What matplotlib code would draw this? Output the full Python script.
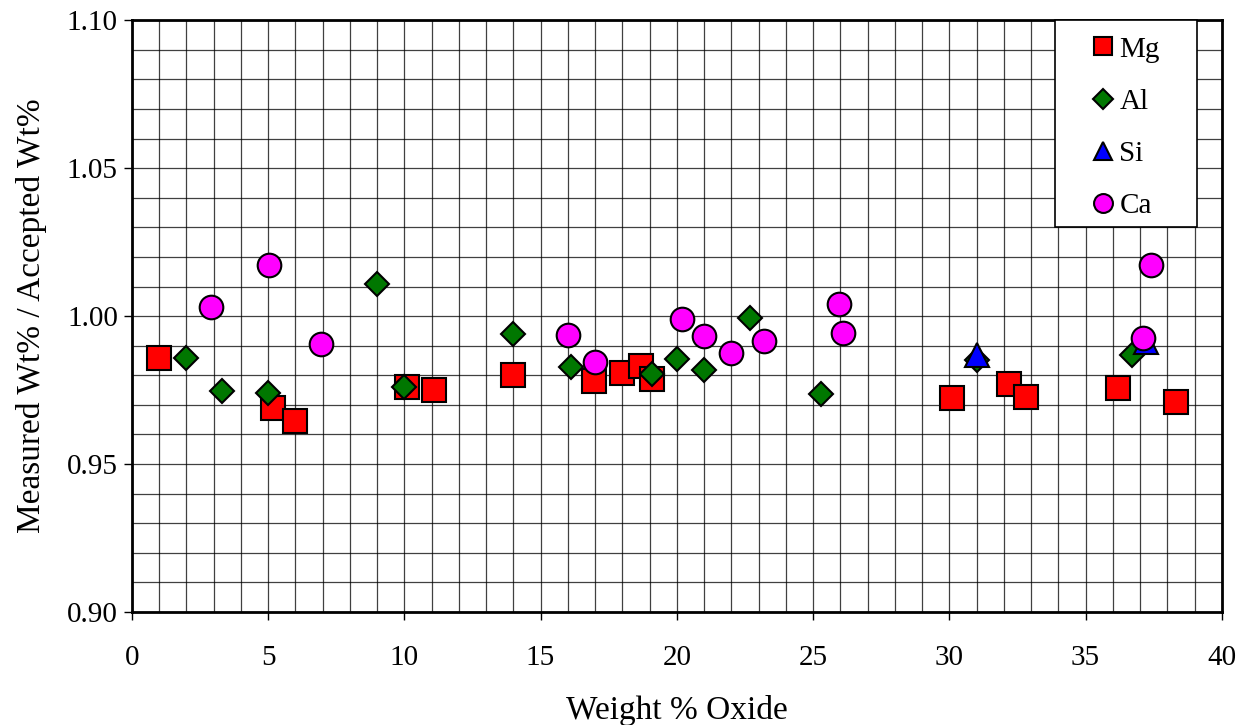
import matplotlib
matplotlib.use("Agg")
import matplotlib.pyplot as plt
from matplotlib.ticker import MultipleLocator, FormatStrFormatter
from matplotlib.patches import Rectangle

# data
mg_x = [1.0, 5.2, 6.0, 10.1, 11.1, 14.0, 16.95, 18.0, 18.7, 19.1, 30.1, 32.2, 32.8, 36.2, 38.3]
mg_y = [0.986, 0.969, 0.9645, 0.976, 0.975, 0.980, 0.978, 0.9807, 0.983, 0.9787, 0.9723, 0.977, 0.9726, 0.9757, 0.971]

al_x = [2.0, 3.3, 5.0, 9.0, 10.0, 14.0, 16.1, 19.1, 20.0, 21.0, 22.7, 25.3, 31.0, 36.7]
al_y = [0.9858, 0.9747, 0.974, 1.0108, 0.976, 0.9939, 0.9827, 0.9804, 0.9855, 0.9817, 0.9993, 0.9736, 0.985, 0.987]

si_x = [31.0, 37.2]
si_y = [0.9868, 0.9912]

ca_x = [2.9, 5.03, 6.95, 16.0, 17.0, 20.2, 21.0, 22.0, 23.2, 25.95, 26.1, 37.4, 37.1]
ca_y = [1.003, 1.0172, 0.9905, 0.9936, 0.9845, 0.999, 0.9932, 0.9875, 0.9916, 1.004, 0.9943, 1.0172, 0.9926]

plt.rcParams["font.family"] = ["Liberation Serif", "DejaVu Serif"]

fig = plt.figure(figsize=(12.43, 7.25), dpi=100)
ax = fig.add_axes([0.106, 0.156, 0.877, 0.816])

ax.plot(mg_x, mg_y, "s", ms=17, mfc="#ff0000", mec="black", mew=1.5, ls="none", label="Mg", zorder=3)
ax.plot(al_x, al_y, "D", ms=12.5, mfc="#007700", mec="black", mew=1.5, ls="none", label="Al", zorder=4)
ax.plot(si_x, si_y, "^", ms=17, mfc="#0000ff", mec="black", mew=1.5, ls="none", label="Si", zorder=5)
ax.plot(ca_x, ca_y, "o", ms=17, mfc="#ff00ff", mec="black", mew=1.5, ls="none", label="Ca", zorder=6)

ax.set_xlim(0, 40)
ax.set_ylim(0.90, 1.10)
ax.xaxis.set_major_locator(MultipleLocator(5))
ax.xaxis.set_minor_locator(MultipleLocator(1))
ax.yaxis.set_major_locator(MultipleLocator(0.05))
ax.yaxis.set_minor_locator(MultipleLocator(0.01))
ax.yaxis.set_major_formatter(FormatStrFormatter("%.2f"))
ax.grid(which="both", color="black", lw=0.9, alpha=0.75, zorder=0)
ax.set_axisbelow(True)
ax.tick_params(which="major", direction="out", length=6, labelsize=21, width=1)
ax.tick_params(which="minor", length=0)
ax.tick_params(axis="x", pad=18)
ax.tick_params(axis="y", pad=4)
for s in ax.spines.values():
    s.set_linewidth(2)

ax.set_xlabel("Weight % Oxide", fontsize=24, labelpad=17)
ax.set_ylabel("Measured Wt% / Accepted Wt%", fontsize=24, labelpad=14)

# legend box (wider horizontal padding than matplotlib's frame allows)
ax.add_patch(Rectangle((0.847, 0.650), 0.130, 0.350, transform=ax.transAxes,
                       facecolor="white", edgecolor="black", lw=1.2, zorder=7, clip_on=False))
leg = ax.legend(loc="upper left", bbox_to_anchor=(0.882, 0.973), borderaxespad=0,
                fontsize=21, markerscale=0.8, handlelength=0.7, handletextpad=0.2,
                labelspacing=0.88, borderpad=0, frameon=False)
leg.set_zorder(8)

fig.savefig("out.png", dpi=100)
